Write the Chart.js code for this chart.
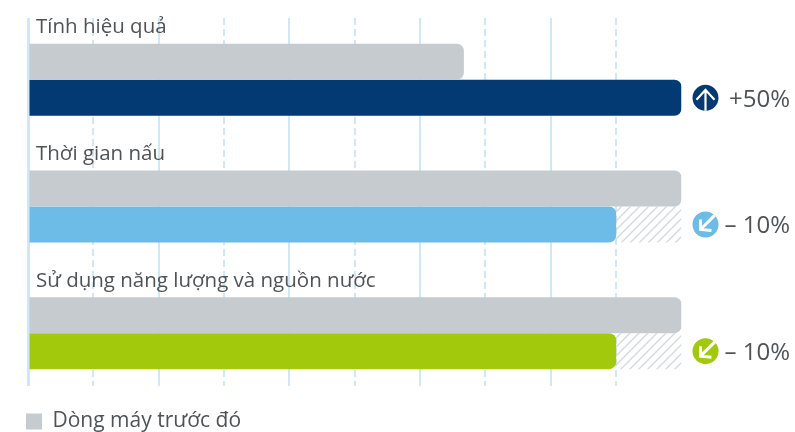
<!DOCTYPE html>
<html>
<head>
<meta charset="utf-8">
<script src="https://cdn.jsdelivr.net/npm/chart.js@4"></script>
<style>
	html, body { margin: 0; padding: 0; background: #fff; overflow: hidden; }
	canvas { display: block; }
</style>
</head>
<body>
<canvas id="chart" width="795" height="432"></canvas>
<script>
const categories = ['Tính hiệu quả', 'Thời gian nấu', 'Sử dụng năng lượng và nguồn nước']
const rows = [0, 1, 2]
const previousValues = [66.7, 100, 100]
const currentValues = [100, 90, 90]
const savedValues = [0, 10, 10]
const changeLabels = ['+50%', '– 10%', '– 10%']
const changeDirections = ['up', 'down', 'down']
const legendLabel = 'Dòng máy trước đó'

const rowColors = ['#033a73', '#6cbce7', '#a3c90d']
const grey = '#c6cbcf'
const gridColor = '#cfe8f9'
const textColor = '#505356'
const fontFamily = '"Open Sans", sans-serif'

function points(values) {
	return values.map((v, i) => ({ x: v, y: rows[i] }))
}

function hatchPattern() {
	const c = document.createElement('canvas')
	c.width = 9
	c.height = 9
	const g = c.getContext('2d')
	g.strokeStyle = '#d3d8dc'
	g.lineWidth = 1.3
	g.beginPath()
	g.moveTo(-1, 10); g.lineTo(10, -1)
	g.moveTo(-1, 1); g.lineTo(1, -1)
	g.moveTo(8, 10); g.lineTo(10, 8)
	g.stroke()
	return g.createPattern(c, 'repeat')
}

function drawArrow(ctx, cx, cy, r, dir) {
	ctx.save()
	ctx.translate(cx, cy)
	ctx.strokeStyle = '#fff'
	ctx.lineCap = 'butt'
	ctx.lineJoin = 'miter'
	ctx.beginPath()
	if (dir === 'up') {
		ctx.lineWidth = 2.2
		ctx.moveTo(0, r)
		ctx.lineTo(0, -8)
		ctx.moveTo(-9, 2)
		ctx.lineTo(0, -8)
		ctx.lineTo(9, 2)
	} else {
		ctx.lineWidth = 3
		ctx.moveTo(r * 0.72, -r * 0.72)
		ctx.lineTo(-5, 5)
		ctx.moveTo(-5, -5)
		ctx.lineTo(-5, 5)
		ctx.lineTo(6, 6)
	}
	ctx.stroke()
	ctx.restore()
}

const annotations = {
	id: 'annotations',
	afterDatasetsDraw(chart) {
		const { ctx, scales } = chart
		ctx.save()
		ctx.textBaseline = 'middle'
		categories.forEach((name, i) => {
			const yPx = scales.y.getPixelForValue(rows[i])
			ctx.textAlign = 'left'
			ctx.fillStyle = textColor
			ctx.font = '20.5px ' + fontFamily
			ctx.fillText(name, 36, yPx - 52.5)

			const cx = scales.x.getPixelForValue(100) + 24
			const cy = yPx + 18
			ctx.fillStyle = rowColors[i]
			ctx.beginPath()
			ctx.arc(cx, cy, 13, 0, Math.PI * 2)
			ctx.fill()
			drawArrow(ctx, cx, cy, 13, changeDirections[i])

			ctx.textAlign = 'right'
			ctx.fillStyle = textColor
			ctx.font = '24px ' + fontFamily
			ctx.fillText(changeLabels[i], 790, cy + 2)
		})
		ctx.restore()
	},
}

const rightCorners = { topLeft: 0, bottomLeft: 0, topRight: 7, bottomRight: 7 }

new Chart(document.getElementById('chart'), {
	type: 'bar',
	data: {
		datasets: [
			{
				label: legendLabel,
				data: points(previousValues),
				backgroundColor: grey,
				borderRadius: rightCorners,
				borderSkipped: false,
				inflateAmount: 0,
				stack: 'previous',
				barThickness: 36,
			},
			{
				label: 'current',
				data: points(currentValues),
				backgroundColor: rowColors,
				borderRadius: rightCorners,
				borderSkipped: false,
				inflateAmount: 0,
				stack: 'current',
				barThickness: 36,
			},
			{
				label: 'saved',
				data: points(savedValues),
				backgroundColor: hatchPattern(),
				inflateAmount: 0,
				stack: 'current',
				barThickness: 36,
			},
		],
	},
	options: {
		indexAxis: 'y',
		responsive: false,
		animation: false,
		layout: { padding: { top: 18, left: 1, right: 113.5, bottom: -10 } },
		scales: {
			x: {
				type: 'linear',
				stacked: true,
				min: 0,
				max: 100,
				ticks: { display: false, stepSize: 10 },
				grid: {
					drawTicks: false,
					color: ctx => ctx.tick.value === 100 ? 'transparent' : gridColor,
					lineWidth: ctx => ctx.tick.value === 0 ? 3 : 2,
				},
				border: {
					display: false,
					dash: ctx => ctx.tick && ctx.tick.value % 20 === 10 ? [7, 4] : [],
				},
			},
			y: {
				type: 'linear',
				offset: false,
				reverse: true,
				min: -0.488,
				max: 2.417,
				ticks: { display: false },
				grid: { display: false },
				border: { display: false },
				afterFit(scale) { scale.width = 27 },
			},
		},
		plugins: {
			tooltip: { enabled: false },
			legend: {
				position: 'bottom',
				align: 'start',
				onClick: null,
				labels: {
					filter: item => item.datasetIndex === 0,
					boxWidth: 16,
					boxHeight: 16,
					padding: 25,
					color: textColor,
					font: { size: 21, family: fontFamily },
				},
			},
		},
	},
	plugins: [annotations],
})
</script>
</body>
</html>
